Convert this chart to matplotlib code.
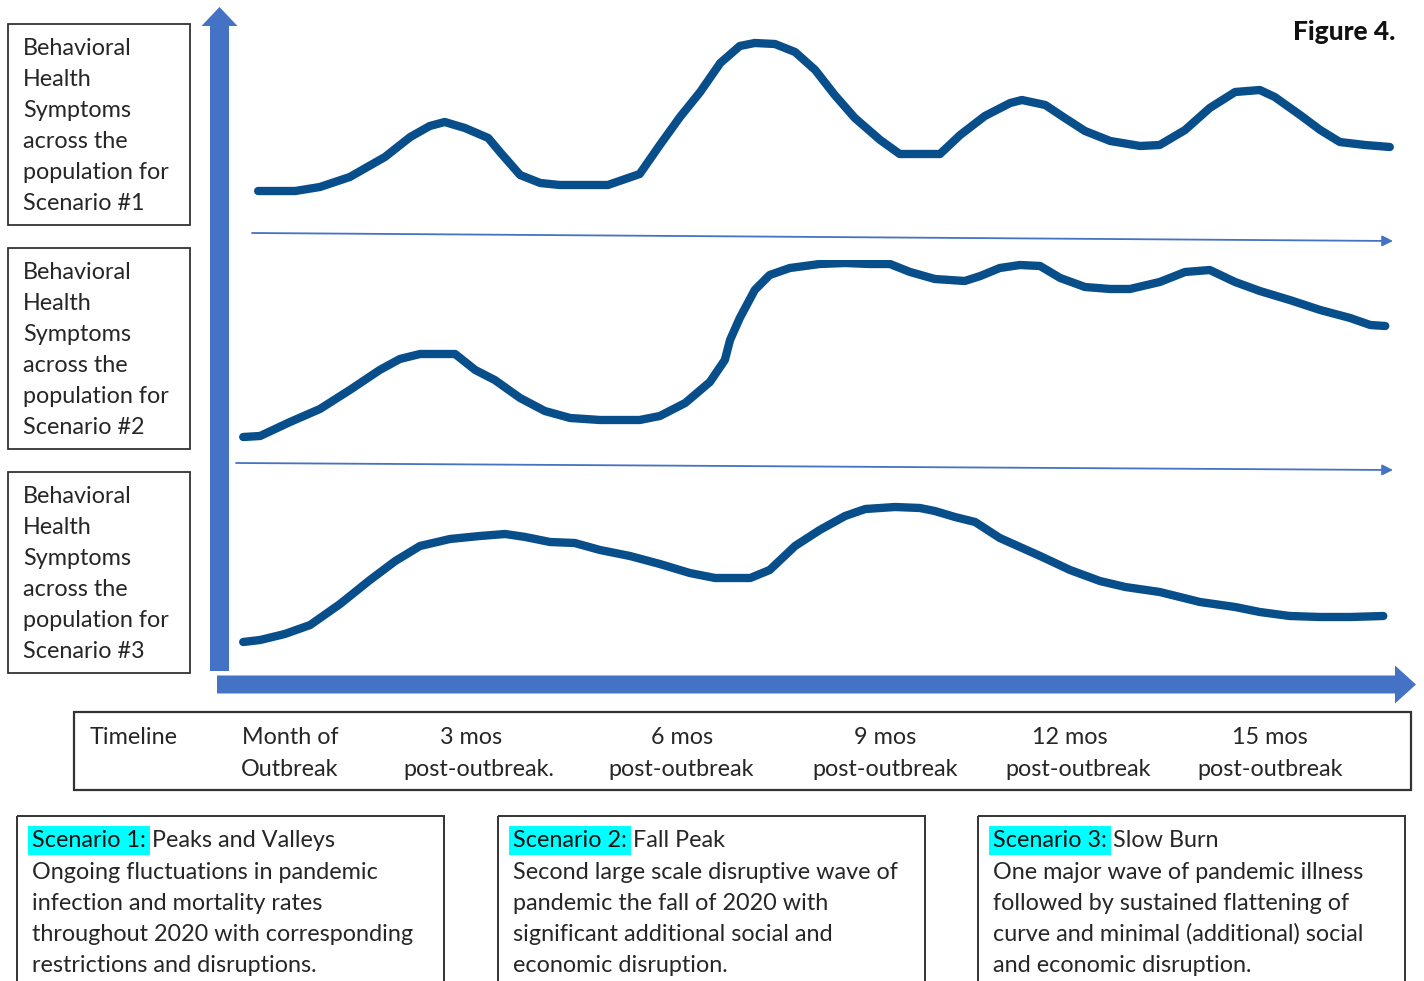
import matplotlib
matplotlib.use('Agg')
import matplotlib.pyplot as plt
from matplotlib.patches import Rectangle, FancyArrow

plt.rcParams['font.family'] = ['Lato', 'DejaVu Sans']

# ---------------- data ----------------
# months after outbreak (x) and symptom level 0-10 (y)
s1_month = [-0.49, 0.08, 0.46, 0.92, 1.46, 1.85, 2.15, 2.38, 2.69, 3.05, 3.23, 3.54, 3.85, 4.15,
            4.89, 5.38, 5.69, 6.00, 6.31, 6.62, 6.92, 7.15, 7.46, 7.77, 8.08, 8.38, 8.69, 9.08,
            9.38, 10.00, 10.31, 10.69, 11.08, 11.26, 11.62, 11.92, 12.23, 12.62, 13.08, 13.38,
            13.77, 14.15, 14.54, 14.92, 15.15, 15.54, 15.85, 16.15, 16.54, 16.92]
s1_level = [1.95, 1.95, 2.15, 2.65, 3.65, 4.65, 5.2, 5.4, 5.1, 4.6, 3.9, 2.75, 2.35, 2.25,
            2.25, 2.8, 4.25, 5.65, 6.9, 8.35, 9.2, 9.35, 9.3, 8.9, 8.0, 6.75, 5.6, 4.5,
            3.8, 3.8, 4.75, 5.7, 6.35, 6.5, 6.25, 5.6, 4.95, 4.45, 4.2, 4.25,
            5.0, 6.1, 6.9, 7.0, 6.65, 5.75, 5.0, 4.4, 4.25, 4.15]

s2_month = [-0.72, -0.46, 0.00, 0.46, 0.92, 1.38, 1.69, 2.00, 2.54, 2.85, 3.15, 3.54, 3.92,
            4.31, 4.77, 5.38, 5.69, 6.08, 6.46, 6.69, 6.77, 6.92, 7.15, 7.38, 7.69, 8.15, 8.54,
            8.92, 9.23, 9.54, 9.92, 10.38, 10.62, 10.92, 11.23, 11.54, 11.85, 12.23, 12.62,
            12.92, 13.38, 13.77, 14.15, 14.54, 14.92, 15.38, 15.85, 16.31, 16.62, 16.85]
s2_level = [1.15, 1.2, 1.9, 2.55, 3.5, 4.5, 5.05, 5.3, 5.3, 4.5, 4.0, 3.1, 2.45,
            2.1, 2.0, 2.0, 2.2, 2.85, 3.9, 5.0, 6.0, 7.1, 8.5, 9.25, 9.6, 9.8, 9.85,
            9.8, 9.8, 9.4, 9.05, 8.95, 9.2, 9.6, 9.75, 9.7, 9.1, 8.65, 8.55,
            8.55, 8.9, 9.4, 9.5, 8.9, 8.45, 8.0, 7.5, 7.1, 6.75, 6.7]

s3_month = [-0.72, -0.46, -0.08, 0.31, 0.77, 1.23, 1.62, 2.00, 2.46, 2.92, 3.31, 3.62, 4.00,
            4.38, 4.77, 5.23, 5.69, 6.15, 6.54, 7.08, 7.38, 7.77, 8.15, 8.54, 8.85, 9.31, 9.69,
            9.92, 10.23, 10.54, 10.92, 11.54, 12.00, 12.46, 12.85, 13.38, 14.00, 14.54, 14.92,
            15.38, 15.85, 16.31, 16.82]
s3_level = [1.9, 2.0, 2.3, 2.75, 3.8, 5.0, 5.95, 6.7, 7.05, 7.2, 7.3, 7.15, 6.9,
            6.85, 6.5, 6.2, 5.8, 5.35, 5.1, 5.1, 5.5, 6.7, 7.5, 8.2, 8.55, 8.65, 8.6,
            8.45, 8.15, 7.9, 7.1, 6.2, 5.5, 4.95, 4.65, 4.4, 3.9, 3.65, 3.4,
            3.2, 3.15, 3.15, 3.2]

side_labels = [
    ["Behavioral", "Health", "Symptoms", "across the", "population for", "Scenario #1"],
    ["Behavioral", "Health", "Symptoms", "across the", "population for", "Scenario #2"],
    ["Behavioral", "Health", "Symptoms", "across the", "population for", "Scenario #3"],
]

timeline_title = "Timeline"
timeline_top = ["Month of", "3 mos", "6 mos", "9 mos", "12 mos", "15 mos"]
timeline_bottom = ["Outbreak", "post-outbreak.", "post-outbreak", "post-outbreak",
                   "post-outbreak", "post-outbreak"]

scenario_tags = ["Scenario 1:", "Scenario 2:", "Scenario 3:"]
scenario_names = [" Peaks and Valleys", " Fall Peak", " Slow Burn"]
scenario_desc = [
    ["Ongoing fluctuations in pandemic", "infection and mortality rates",
     "throughout 2020 with corresponding", "restrictions and disruptions."],
    ["Second large scale disruptive wave of", "pandemic the fall of 2020 with",
     "significant additional social and", "economic disruption."],
    ["One major wave of pandemic illness", "followed by sustained flattening of",
     "curve and minimal (additional) social", "and economic disruption."],
]

# ---------------- layout ----------------
W, H = 1424, 981
ARROW = '#4472C4'
CURVE = '#084E8A'
EDGE = '#333333'
TXT = '#262626'
FS = 16.8

fig = plt.figure(figsize=(W / 100, H / 100), dpi=100)
ax = fig.add_axes([0, 0, 1, 1])
ax.set_xlim(0, W)
ax.set_ylim(H, 0)
ax.axis('off')

# big axis arrows
ax.add_patch(FancyArrow(219.5, 671, 0, -664, width=19, head_width=36, head_length=19,
                        length_includes_head=True, color=ARROW, lw=0))
ax.add_patch(FancyArrow(217, 684.5, 1199, 0, width=18, head_width=38, head_length=21,
                        length_includes_head=True, color=ARROW, lw=0))

# thin separator arrows
for (x0, y0, x1, y1) in [(252, 233, 1393, 241), (236, 463, 1393, 470)]:
    ax.annotate('', xy=(x1, y1), xytext=(x0, y0),
                arrowprops=dict(arrowstyle='-|>', color=ARROW, lw=1.3,
                                mutation_scale=16, shrinkA=0, shrinkB=0))

# curves
bands = [(30, 230), (260, 460), (480, 680)]
series = [(s1_month, s1_level), (s2_month, s2_level), (s3_month, s3_level)]
for (top, bot), (mx, lv) in zip(bands, series):
    cax = fig.add_axes([0, 1 - bot / H, 1, (bot - top) / H])
    cax.set_xlim(-290 / 65, (W - 290) / 65)
    cax.set_ylim(0, 10)
    cax.axis('off')
    cax.patch.set_alpha(0)
    cax.plot(mx, lv, color=CURVE, lw=6, solid_capstyle='round', solid_joinstyle='round')

# side label boxes
box_tops = [24, 248, 472]
for top, lines in zip(box_tops, side_labels):
    ax.add_patch(Rectangle((8, top), 182, 201, fill=False, ec=EDGE, lw=1.3))
    for i, t in enumerate(lines):
        ax.text(23, top + 31 + i * 31, t, fontsize=FS, va='baseline', ha='left', color=TXT)

# timeline box
ax.add_patch(Rectangle((74, 712), 1337, 78, fill=False, ec=EDGE, lw=1.6))
ax.text(90, 744, timeline_title, fontsize=FS, va='baseline', ha='left', color=TXT)
tl_x = [290, 471, 682, 885, 1070, 1270]
tl_x2 = [290, 479, 681, 885, 1078, 1270]
for x, x2, t1, t2 in zip(tl_x, tl_x2, timeline_top, timeline_bottom):
    ax.text(x, 744, t1, fontsize=FS, va='baseline', ha='center', color=TXT)
    ax.text(x2, 776, t2, fontsize=FS, va='baseline', ha='center', color=TXT)

# scenario description boxes
bx = [17, 498, 978]
for x, tag, name, desc in zip(bx, scenario_tags, scenario_names, scenario_desc):
    ax.add_patch(Rectangle((x, 816), 427, 200, fill=False, ec=EDGE, lw=1.4, clip_on=False))
    t = ax.text(x + 15, 847, tag, fontsize=FS, va='baseline', ha='left', color='#111111',
                bbox=dict(boxstyle='square,pad=0.16', fc='#00FFFF', ec='none'))
    ax.annotate(name, xy=(1, 0), xycoords=t, xytext=(0, 0), textcoords='offset points',
                fontsize=FS, va='bottom', ha='left', color=TXT)
    for i, line in enumerate(desc):
        ax.text(x + 15, 879 + i * 31, line, fontsize=FS, va='baseline', ha='left', color=TXT)

ax.text(1395, 40, "Figure 4.", fontsize=19, fontweight='black', ha='right', va='baseline',
        color='#111111')

fig.savefig('out.png', dpi=100)
